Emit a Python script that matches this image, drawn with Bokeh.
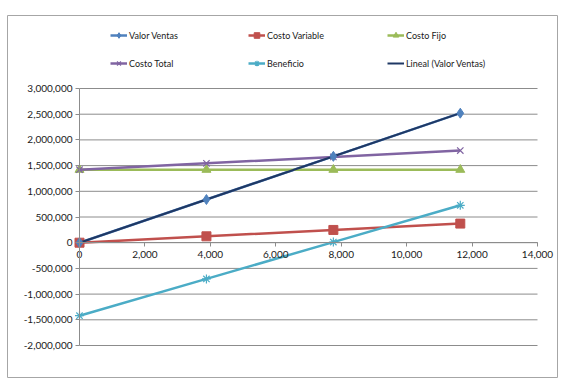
import numpy as np
from bokeh.plotting import figure
from bokeh.models import (Legend, LegendItem, Range1d, FixedTicker,
                          NumeralTickFormatter)
from bokeh.embed import file_html
from bokeh.resources import INLINE

# ---- data ----
unidades = [0, 3880, 7760, 11640]
valor_ventas = [0, 840000, 1680000, 2520000]
costo_variable = [0, 124000, 248000, 372000]
costo_fijo = [1420000, 1420000, 1420000, 1420000]
costo_total = [1420000, 1544000, 1668000, 1792000]
beneficio = [-1420000, -704000, 12000, 728000]
x_ticks = [0, 2000, 4000, 6000, 8000, 10000, 12000, 14000]
y_ticks = [-2000000, -1500000, -1000000, -500000, 0, 500000,
           1000000, 1500000, 2000000, 2500000, 3000000]

FONT = "Lato"
GRAY = "#8C8C8C"

# ---- layout (pixels) ----
W, H = 551, 363       # the frame fills the whole canvas; its outline is the chart border
AX_W = 458            # pixel width of the 0..14000 span
AX_H = 257            # pixel height of the -2M..3M span
AX_LEFT = 72          # pixels from the border to x = 0
AX_BOTTOM = 33        # pixels from the bottom border to y = -2M
x_lo, x_hi = min(x_ticks), max(x_ticks)
y_lo, y_hi = min(y_ticks), max(y_ticks)
kx = (x_hi - x_lo) / AX_W
ky = (y_hi - y_lo) / AX_H
x_start = x_lo - AX_LEFT * kx
x_end = x_start + W * kx
y_start = y_lo - AX_BOTTOM * ky
y_end = y_start + H * ky

p = figure(width=W, height=H,
           x_range=Range1d(x_start, x_end), y_range=Range1d(y_start, y_end),
           output_backend="svg", toolbar_location=None,
           min_border_left=0, min_border_right=0,
           min_border_top=0, min_border_bottom=0)
p.styles = {"transform": "translate(7px, 15px)"}
p.outline_line_color = "#A6A6A6"
p.outline_line_width = 1
p.grid.visible = False

# horizontal gridlines limited to the axis span
p.segment(x0=[x_lo] * len(y_ticks), x1=[x_hi] * len(y_ticks),
          y0=y_ticks, y1=y_ticks, line_color=GRAY, line_width=1,
          level="underlay")

# axes crossing at the origin
p.xaxis.ticker = FixedTicker(ticks=x_ticks)
p.yaxis.ticker = FixedTicker(ticks=y_ticks)
p.xaxis.bounds = (x_lo, x_hi)
p.yaxis.bounds = (y_lo, y_hi)
p.xaxis.fixed_location = 0
p.yaxis.fixed_location = 0
p.xaxis.formatter = NumeralTickFormatter(format="0,0")
p.yaxis.formatter = NumeralTickFormatter(format="0,0")
for ax in (p.xaxis, p.yaxis):
    ax.axis_line_color = GRAY
    ax.major_tick_line_color = GRAY
    ax.minor_tick_line_color = None
    ax.major_tick_in = 0
    ax.major_tick_out = 4
    ax.major_label_text_font = FONT
    ax.major_label_text_font_size = "10px"
    ax.major_label_text_color = "#1a1a1a"
p.xaxis.major_label_standoff = 4
p.yaxis.major_label_standoff = 3

BLUE = "#4F81BD"
RED = "#C0504D"
GREEN = "#9BBB59"
PURPLE = "#8064A2"
CYAN = "#4BACC6"
NAVY = "#1F3864"
LW = 2.5

l_v = p.line(unidades, valor_ventas, line_color=BLUE, line_width=LW)
l_cv = p.line(unidades, costo_variable, line_color=RED, line_width=LW)
m_cv = p.scatter(unidades, costo_variable, marker="square", size=9,
                 fill_color=RED, line_color=RED)
l_cf = p.line(unidades, costo_fijo, line_color=GREEN, line_width=LW)
m_cf = p.scatter(unidades, costo_fijo, marker="triangle", size=9,
                 fill_color=GREEN, line_color=GREEN)
l_ct = p.line(unidades, costo_total, line_color=PURPLE, line_width=LW)
m_ct = p.scatter(unidades, costo_total, marker="x", size=9,
                 line_color=PURPLE, line_width=1.2)
l_b = p.line(unidades, beneficio, line_color=CYAN, line_width=LW)
m_b = p.scatter(unidades, beneficio, marker="asterisk", size=9,
                line_color=CYAN, line_width=1.2)

# linear trend line of Valor Ventas
coef = np.polyfit(unidades, valor_ventas, 1)
tx = [min(unidades), max(unidades)]
ty = [coef[0] * t + coef[1] for t in tx]
l_t = p.line(tx, ty, line_color=NAVY, line_width=2)
m_v = p.scatter(unidades, valor_ventas, marker="diamond", size=10,
                fill_color=BLUE, line_color=BLUE)


def mk_legend(items, loc):
    leg = Legend(items=items, location=loc, orientation="vertical",
                 glyph_width=17, glyph_height=14, label_height=14,
                 spacing=14, padding=0, margin=0, label_standoff=2,
                 border_line_color=None, background_fill_alpha=0,
                 label_text_font=FONT, label_text_font_size="9px",
                 label_text_color="#1a1a1a")
    p.add_layout(leg, "center")


LEG_Y = 308
mk_legend([LegendItem(label="Valor Ventas", renderers=[l_v, m_v]),
           LegendItem(label="Costo Total", renderers=[l_ct, m_ct])],
          (AX_LEFT + 31, LEG_Y))
mk_legend([LegendItem(label="Costo Variable", renderers=[l_cv, m_cv]),
           LegendItem(label="Beneficio", renderers=[l_b, m_b])],
          (AX_LEFT + 169, LEG_Y))
mk_legend([LegendItem(label="Costo Fijo", renderers=[l_cf, m_cf]),
           LegendItem(label="Lineal (Valor Ventas)", renderers=[l_t])],
          (AX_LEFT + 308, LEG_Y))

open("out.html", "w").write(file_html(p, INLINE))
